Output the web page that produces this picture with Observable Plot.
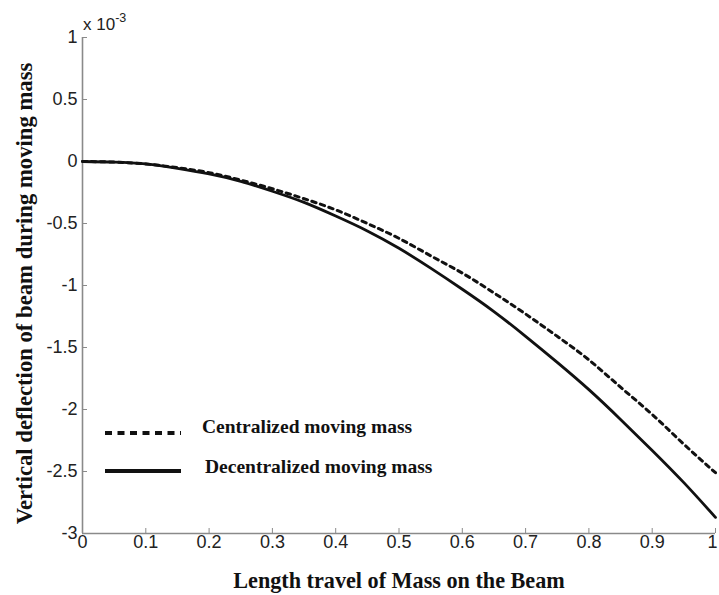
<!DOCTYPE html>
<html>
<head>
<meta charset="utf-8">
<script src="https://cdn.jsdelivr.net/npm/d3@7"></script>
<script src="https://cdn.jsdelivr.net/npm/@observablehq/plot@0.6"></script>
<style>
  html, body { margin: 0; padding: 0; background: #fff; }
  #wrap { position: relative; width: 719px; height: 595px; overflow: hidden; }
  #exp { position: absolute; left: 83px; top: 12px; font: 17px "Liberation Sans", Arial, sans-serif; color: #222; }
  #exp sup { font-size: 12.5px; position: relative; top: -1px; }
  .leg { position: absolute; font: bold 19.5px "Liberation Serif", "Times New Roman", serif; color: #111; white-space: nowrap; }
</style>
</head>
<body>
<div id="wrap"></div>
<script>
// Data (deflection values in units of 1e-3)
const xs = [0, 0.05, 0.1, 0.15, 0.2, 0.25, 0.3, 0.35, 0.4, 0.45, 0.5, 0.55, 0.6, 0.65, 0.7, 0.75, 0.8, 0.85, 0.9, 0.95, 1.0];
const centralized = [0, -0.005, -0.02, -0.05, -0.09, -0.15, -0.22, -0.30, -0.39, -0.50, -0.62, -0.76, -0.90, -1.06, -1.23, -1.41, -1.60, -1.82, -2.04, -2.28, -2.51];
const decentralized = [0, -0.005, -0.02, -0.055, -0.10, -0.16, -0.24, -0.33, -0.44, -0.56, -0.70, -0.86, -1.03, -1.21, -1.41, -1.62, -1.84, -2.08, -2.33, -2.59, -2.87];
const xTicks = [0, 0.1, 0.2, 0.3, 0.4, 0.5, 0.6, 0.7, 0.8, 0.9, 1];
const yTicks = [-3, -2.5, -2, -1.5, -1, -0.5, 0, 0.5, 1];
const seriesNames = ["Centralized moving mass", "Decentralized moving mass"];
const xTitle = "Length travel of Mass on the Beam";
const yTitle = "Vertical deflection of beam during moving mass";

const cData = xs.map((x, i) => ({x, y: centralized[i]}));
const dData = xs.map((x, i) => ({x, y: decentralized[i]}));

const fmt = d => String(d);
const tickFont = '"Liberation Sans", Arial, sans-serif';
const titleFont = '"Liberation Serif", "Times New Roman", serif';
const lastX = xTicks[xTicks.length - 1];

const chart = Plot.plot({
  width: 719,
  height: 595,
  marginLeft: 82,
  marginRight: 4,
  marginTop: 37,
  marginBottom: 62,
  style: { background: "#fff", fontFamily: tickFont, fontSize: "18px", overflow: "visible" },
  x: { domain: [0, 1] },
  y: { domain: [-3, 1] },
  marks: [
    // axis lines
    Plot.ruleY([-3], { stroke: "#8a8a8a", strokeWidth: 1.6 }),
    Plot.ruleX([0], { stroke: "#8a8a8a", strokeWidth: 1.6 }),
    // inward ticks
    Plot.axisX({ ticks: xTicks, tickSize: -5, tickFormat: () => "", stroke: "#8a8a8a", label: null }),
    Plot.axisY({ ticks: yTicks, tickSize: -5, tickFormat: () => "", stroke: "#8a8a8a", label: null }),
    // tick labels
    Plot.axisX({ ticks: xTicks.slice(0, -1), tickSize: 0, tickPadding: 2, tickFormat: fmt, fontSize: 18, fill: "#222", label: null }),
    Plot.axisX({ ticks: [lastX], tickSize: 0, tickPadding: 2, tickFormat: fmt, fontSize: 18, fill: "#222", label: null, dx: -3 }),
    Plot.axisY({ ticks: yTicks, tickSize: 0, tickPadding: 5, tickFormat: fmt, fontSize: 18, fill: "#222", label: null }),
    // curves
    Plot.line(cData, { x: "x", y: "y", curve: "natural", stroke: "#111", strokeWidth: 3, strokeDasharray: "4.5,4.5" }),
    Plot.line(dData, { x: "x", y: "y", curve: "natural", stroke: "#111", strokeWidth: 2.8 }),
    // axis titles
    Plot.text([xTitle], { frameAnchor: "bottom", dy: 47, lineAnchor: "middle", textAnchor: "middle", text: d => d, fontFamily: titleFont, fontWeight: "bold", fontSize: 22.2, fill: "#111" }),
    Plot.text([yTitle], { frameAnchor: "left", dx: -58, dy: 8, rotate: -90, lineAnchor: "middle", textAnchor: "middle", text: d => d, fontFamily: titleFont, fontWeight: "bold", fontSize: 22.7, fill: "#111" })
  ]
});

const wrap = document.getElementById("wrap");
wrap.appendChild(chart);

// exponent label
const exp = document.createElement("div");
exp.id = "exp";
exp.innerHTML = "x 10<sup>-3</sup>";
wrap.appendChild(exp);

// legend overlay
const ns = "http://www.w3.org/2000/svg";
const legSvg = document.createElementNS(ns, "svg");
legSvg.setAttribute("width", 719);
legSvg.setAttribute("height", 595);
legSvg.style.position = "absolute";
legSvg.style.left = "0";
legSvg.style.top = "0";
legSvg.style.pointerEvents = "none";
[[433, "7,5.5"], [471, null]].forEach(([y, dash]) => {
  const l = document.createElementNS(ns, "line");
  l.setAttribute("x1", 105); l.setAttribute("x2", 181);
  l.setAttribute("y1", y); l.setAttribute("y2", y);
  l.setAttribute("stroke", "#111");
  l.setAttribute("stroke-width", 4);
  if (dash) l.setAttribute("stroke-dasharray", dash);
  legSvg.appendChild(l);
});
wrap.appendChild(legSvg);
[[202, 416, seriesNames[0]], [205, 456, seriesNames[1]]].forEach(([x, y, t]) => {
  const d = document.createElement("div");
  d.className = "leg";
  d.style.left = x + "px";
  d.style.top = y + "px";
  d.textContent = t;
  wrap.appendChild(d);
});
</script>
</body>
</html>
